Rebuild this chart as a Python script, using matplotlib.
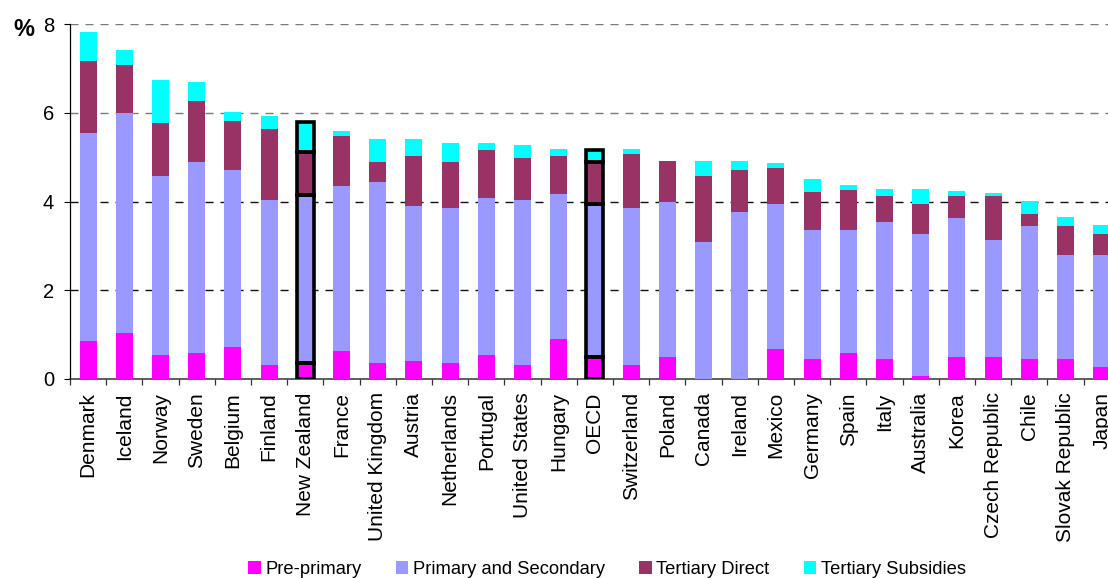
import matplotlib
matplotlib.use("Agg")
import matplotlib.pyplot as plt
from matplotlib.ticker import FixedLocator
import numpy as np

plt.rcParams['font.family'] = ['Liberation Sans', 'DejaVu Sans']

countries = ["Denmark", "Iceland", "Norway", "Sweden", "Belgium", "Finland",
             "New Zealand", "France", "United Kingdom", "Austria", "Netherlands",
             "Portugal", "United States", "Hungary", "OECD", "Switzerland",
             "Poland", "Canada", "Ireland", "Mexico", "Germany", "Spain", "Italy",
             "Australia", "Korea", "Czech Republic", "Chile", "Slovak Republic",
             "Japan"]

pre_primary = [0.86, 1.04, 0.54, 0.59, 0.72, 0.32, 0.35, 0.63, 0.36, 0.41,
               0.36, 0.54, 0.32, 0.90, 0.49, 0.32, 0.50, 0.00, 0.00, 0.68,
               0.45, 0.59, 0.45, 0.07, 0.50, 0.50, 0.45, 0.45, 0.27]
primary_secondary = [4.68, 4.95, 4.03, 4.30, 3.99, 3.71, 3.80, 3.72, 4.08, 3.49,
                     3.49, 3.54, 3.71, 3.27, 3.45, 3.53, 3.49, 3.09, 3.76, 3.26,
                     2.91, 2.77, 3.09, 3.20, 3.13, 2.63, 3.00, 2.34, 2.52]
tertiary_direct = [1.63, 1.09, 1.20, 1.37, 1.10, 1.60, 0.97, 1.13, 0.45, 1.13,
                   1.04, 1.08, 0.95, 0.86, 0.96, 1.22, 0.92, 1.48, 0.95, 0.81,
                   0.85, 0.90, 0.58, 0.67, 0.49, 0.99, 0.27, 0.66, 0.48]
tertiary_subsidies = [0.65, 0.33, 0.97, 0.43, 0.21, 0.30, 0.68, 0.11, 0.52, 0.38,
                      0.43, 0.16, 0.29, 0.15, 0.27, 0.11, 0.00, 0.34, 0.20, 0.12,
                      0.30, 0.11, 0.16, 0.34, 0.12, 0.07, 0.29, 0.20, 0.20]

series_names = ["Pre-primary", "Primary and Secondary", "Tertiary Direct",
                "Tertiary Subsidies"]
series_colors = ["#FF00FF", "#9999FF", "#993366", "#00FFFF"]
highlighted = ["New Zealand", "OECD"]
y_ticks = [0, 2, 4, 6, 8]

W, H = 1108, 578
fig = plt.figure(figsize=(W / 100, H / 100), dpi=100)
ax = fig.add_axes([70 / W, (H - 379) / H, 29 * 36.2 / W, 355 / H])

x = np.arange(len(countries))
bar_w = 0.47
series = [pre_primary, primary_secondary, tertiary_direct, tertiary_subsidies]
bottom = np.zeros(len(countries))
for name, vals, col in zip(series_names, series, series_colors):
    vals = np.array(vals)
    ax.bar(x, vals, bar_w, bottom=bottom, color=col, label=name,
           linewidth=0, zorder=3)
    bottom = bottom + vals

# Outline every segment of the highlighted bars
for c in highlighted:
    i = countries.index(c)
    b = 0.0
    for vals in series:
        v = vals[i]
        if v > 0:
            ax.bar(x[i], v, bar_w, bottom=b, fill=False, edgecolor="black",
                   linewidth=2.6, zorder=4)
        b += v

ax.set_xlim(-0.5, len(countries) - 0.5)
ax.set_ylim(0, 8)
ax.set_yticks(y_ticks)
ax.set_yticklabels([str(t) for t in y_ticks], fontsize=14.5)
ax.tick_params(axis="y", direction="out", length=4.3, width=0.8,
               color="black", pad=7.2)

ax.set_xticks(x)
ax.set_xticklabels(countries, rotation=90, fontsize=15, va="top", ha="center")
ax.tick_params(axis="x", which="major", length=0, pad=9.5)
ax.xaxis.set_minor_locator(FixedLocator(np.arange(-0.5, len(countries), 1.0)))
ax.tick_params(axis="x", which="minor", direction="out", length=4.3,
               width=0.9, color="#333333")

ax.yaxis.grid(True, linestyle=(0, (5.8, 5.0)), linewidth=1.0, zorder=0)
for t, gl in zip(y_ticks, ax.get_ygridlines()):
    gl.set_color("#7a7a7a" if t >= 6 else "#111111")
    if t == 0:
        gl.set_visible(False)
ax.set_axisbelow(True)

for s in ["top", "right"]:
    ax.spines[s].set_visible(False)
ax.spines["left"].set_color("black")
ax.spines["left"].set_linewidth(0.9)
ax.spines["bottom"].set_color("#333333")
ax.spines["bottom"].set_linewidth(1.1)

fig.text(13 / W, 1 - 29 / H, "%", fontsize=17, fontweight="bold",
         ha="left", va="center")

handles, labels = ax.get_legend_handles_labels()
fig.legend(handles, labels, loc="center left",
           bbox_to_anchor=(248 / W, 8.5 / H), ncol=4, frameon=False,
           fontsize=13.2, handlelength=0.7, handleheight=0.7,
           handletextpad=0.25, columnspacing=1.85, borderpad=0,
           borderaxespad=0)

fig.savefig("out.png", dpi=100)
